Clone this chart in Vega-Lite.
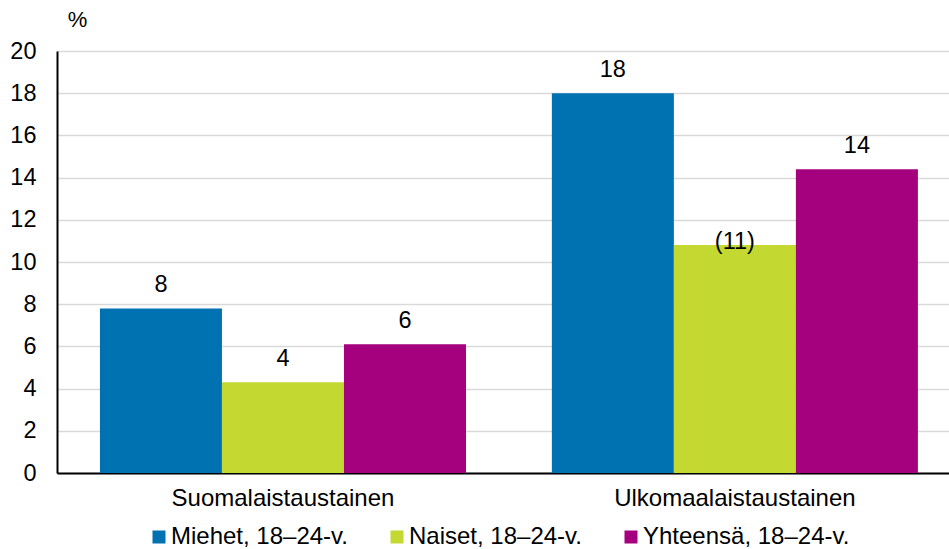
{
  "$schema": "https://vega.github.io/schema/vega-lite/v6.json",
  "autosize": {"type": "none"},
  "width": 892,
  "height": 422,
  "padding": {"left": 57, "top": 51, "right": 0, "bottom": 76},
  "background": "white",
  "config": {
    "font": "Liberation Sans",
    "view": {"stroke": null}
  },
  "data": {
    "values": [
      {"tausta": "Suomalaistaustainen", "ryhma": "Miehet, 18–24-v.", "arvo": 7.8, "label": "8"},
      {"tausta": "Suomalaistaustainen", "ryhma": "Naiset, 18–24-v.", "arvo": 4.3, "label": "4"},
      {"tausta": "Suomalaistaustainen", "ryhma": "Yhteensä, 18–24-v.", "arvo": 6.1, "label": "6"},
      {"tausta": "Ulkomaalaistaustainen", "ryhma": "Miehet, 18–24-v.", "arvo": 18.0, "label": "18"},
      {"tausta": "Ulkomaalaistaustainen", "ryhma": "Naiset, 18–24-v.", "arvo": 10.8, "label": "(11)"},
      {"tausta": "Ulkomaalaistaustainen", "ryhma": "Yhteensä, 18–24-v.", "arvo": 14.4, "label": "14"}
    ]
  },
  "encoding": {
    "x": {
      "field": "tausta",
      "type": "nominal",
      "sort": null,
      "scale": {"paddingInner": 0.19, "paddingOuter": 0.0819, "align": 0.58},
      "axis": {
        "title": null,
        "labelAngle": 0,
        "labelFontSize": 24,
        "labelColor": "black",
        "labelPadding": 13,
        "labelLimit": 0,
        "ticks": false,
        "domainColor": "black",
        "domainWidth": 2,
        "grid": false
      }
    },
    "xOffset": {"field": "ryhma", "type": "nominal", "sort": null, "scale": {"paddingInner": 0}},
    "y": {
      "field": "arvo",
      "type": "quantitative",
      "scale": {"domain": [0, 20], "nice": false},
      "axis": {
        "values": [0, 2, 4, 6, 8, 10, 12, 14, 16, 18, 20],
        "title": "%",
        "titleAngle": 0,
        "titleX": 20,
        "titleY": -32,
        "titleAlign": "center",
        "titleBaseline": "middle",
        "titleFontSize": 22,
        "titleFontWeight": "normal",
        "titleColor": "black",
        "labelFontSize": 23.5,
        "labelColor": "black",
        "labelPadding": 21,
        "ticks": false,
        "domainColor": "black",
        "domainWidth": 2,
        "gridColor": "#d9d9d9",
        "gridWidth": 1.5
      }
    }
  },
  "layer": [
    {
      "mark": {"type": "bar"},
      "encoding": {
        "color": {
          "field": "ryhma",
          "type": "nominal",
          "sort": null,
          "scale": {"range": ["#0072B1", "#C3D831", "#A5007D"]},
          "legend": {
            "title": null,
            "orient": "none",
            "direction": "horizontal",
            "legendX": 90,
            "legendY": 474,
            "padding": 0,
            "symbolType": "square",
            "symbolSize": 169,
            "symbolStrokeWidth": 0,
            "labelFontSize": 24,
            "labelColor": "black",
            "labelOffset": 0,
            "labelLimit": 0,
            "columnPadding": 37
          }
        }
      }
    },
    {
      "transform": [{"filter": "datum.label != '(11)'"}],
      "mark": {"type": "text", "baseline": "alphabetic", "dy": -16, "fontSize": 23.5, "color": "black"},
      "encoding": {"text": {"field": "label"}}
    },
    {
      "transform": [{"filter": "datum.label == '(11)'"}],
      "mark": {"type": "text", "baseline": "alphabetic", "dy": 4, "fontSize": 23.5, "color": "black"},
      "encoding": {"text": {"field": "label"}}
    }
  ]
}
